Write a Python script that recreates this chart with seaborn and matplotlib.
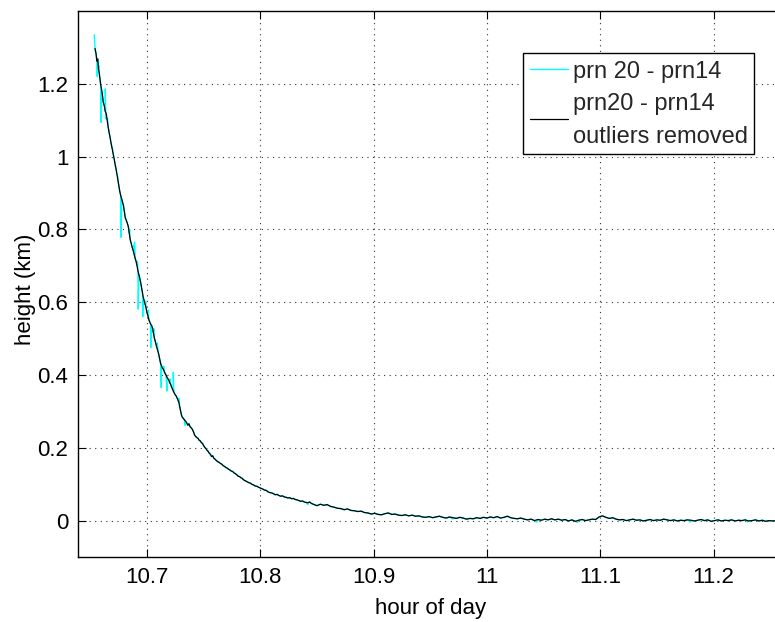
import numpy as np
import pandas as pd
import matplotlib
matplotlib.use("Agg")
import matplotlib.pyplot as plt
import seaborn as sns

# ---------------- data ----------------
# black series: prn20 - prn14, outliers removed (hour of day, height km)
steep_hour = [10.6541, 10.6550, 10.6558, 10.6565, 10.6572, 10.6580, 10.6590, 10.6598, 10.6606, 10.6614,
              10.6623, 10.6632, 10.6640, 10.6648, 10.6656, 10.6665, 10.6673, 10.6681, 10.6690, 10.6700,
              10.6710, 10.6719, 10.6727, 10.6735, 10.6744, 10.6752, 10.6760, 10.6768, 10.6776, 10.6784,
              10.6792, 10.6800, 10.6808, 10.6816, 10.6825, 10.6835, 10.6843, 10.6851, 10.6860, 10.6870,
              10.6879, 10.6888, 10.6896, 10.6904, 10.6912, 10.6920, 10.6928, 10.6936, 10.6944, 10.6952,
              10.6960, 10.6968, 10.6976, 10.6984, 10.6992, 10.7000, 10.7008, 10.7016, 10.7024, 10.7032,
              10.7040, 10.7048, 10.7056, 10.7064, 10.7072, 10.7080, 10.7088, 10.7096, 10.7104, 10.7112,
              10.7120, 10.7128, 10.7136, 10.7144, 10.7152, 10.7160, 10.7168, 10.7176, 10.7184, 10.7192,
              10.7200, 10.7208, 10.7216, 10.7224, 10.7232, 10.7240, 10.7248, 10.7256, 10.7264, 10.7272,
              10.7280, 10.7288, 10.7296, 10.7304, 10.7312, 10.7320, 10.7330, 10.7340, 10.7350, 10.7360,
              10.7370, 10.7380, 10.7390, 10.7400, 10.7410, 10.7420, 10.7430, 10.7440, 10.7450, 10.7460,
              10.7470, 10.7480, 10.7490, 10.7500, 10.7510, 10.7520, 10.7530, 10.7540, 10.7550, 10.7560,
              10.7570, 10.7580, 10.7590, 10.7600, 10.7612, 10.7624, 10.7636, 10.7648, 10.7660, 10.7672,
              10.7684, 10.7696, 10.7708, 10.7720, 10.7732, 10.7744, 10.7756, 10.7768, 10.7780, 10.7792,
              10.7804, 10.7816, 10.7828, 10.7840, 10.7852, 10.7864, 10.7876, 10.7888, 10.7900, 10.7912,
              10.7924, 10.7940, 10.7956, 10.7972, 10.7988, 10.8004, 10.8020, 10.8036, 10.8052, 10.8068,
              10.8084, 10.8100, 10.8116, 10.8132, 10.8148, 10.8164, 10.8180, 10.8196, 10.8212, 10.8228,
              10.8244, 10.8260, 10.8276, 10.8292, 10.8308, 10.8324, 10.8340, 10.8356, 10.8372, 10.8388,
              10.8404, 10.8420, 10.8436, 10.8452, 10.8468, 10.8484, 10.8500]
steep_height = [1.297, 1.283, 1.262, 1.268, 1.240, 1.226, 1.200, 1.186, 1.170, 1.149,
                1.140, 1.124, 1.118, 1.101, 1.084, 1.067, 1.055, 1.040, 1.026, 1.010,
                0.994, 0.978, 0.966, 0.951, 0.935, 0.918, 0.904, 0.893, 0.884, 0.876,
                0.866, 0.848, 0.832, 0.826, 0.818, 0.808, 0.790, 0.773, 0.762, 0.750,
                0.741, 0.730, 0.720, 0.712, 0.700, 0.686, 0.676, 0.666, 0.654, 0.640,
                0.625, 0.612, 0.603, 0.594, 0.584, 0.571, 0.563, 0.552, 0.546, 0.540,
                0.536, 0.530, 0.516, 0.503, 0.493, 0.484, 0.474, 0.466, 0.456, 0.444,
                0.432, 0.425, 0.419, 0.416, 0.410, 0.404, 0.400, 0.394, 0.390, 0.386,
                0.379, 0.375, 0.368, 0.362, 0.356, 0.351, 0.346, 0.343, 0.338, 0.332,
                0.326, 0.314, 0.302, 0.290, 0.284, 0.281, 0.277, 0.273, 0.269, 0.262,
                0.266, 0.258, 0.255, 0.251, 0.244, 0.235, 0.231, 0.228, 0.226, 0.221,
                0.219, 0.214, 0.212, 0.206, 0.201, 0.198, 0.193, 0.190, 0.185, 0.182,
                0.176, 0.178, 0.171, 0.169, 0.165, 0.162, 0.160, 0.157, 0.155, 0.151,
                0.149, 0.146, 0.144, 0.141, 0.139, 0.136, 0.135, 0.131, 0.129, 0.126,
                0.122, 0.121, 0.118, 0.116, 0.112, 0.110, 0.108, 0.106, 0.104, 0.103,
                0.100, 0.098, 0.095, 0.094, 0.091, 0.089, 0.087, 0.084, 0.083, 0.079,
                0.077, 0.076, 0.074, 0.071, 0.072, 0.069, 0.067, 0.068, 0.065, 0.064,
                0.062, 0.063, 0.060, 0.061, 0.058, 0.057, 0.055, 0.053, 0.054, 0.051,
                0.050, 0.049, 0.051, 0.047, 0.045, 0.043, 0.041]

tail_hour = [10.853, 10.856, 10.859, 10.862, 10.865, 10.868, 10.871, 10.874, 10.877, 10.880,
             10.883, 10.886, 10.889, 10.892, 10.895, 10.898, 10.901, 10.904, 10.907, 10.910,
             10.913, 10.916, 10.919, 10.922, 10.925, 10.928, 10.931, 10.934, 10.937, 10.940,
             10.943, 10.946, 10.949, 10.952, 10.955, 10.958, 10.961, 10.964, 10.967, 10.970,
             10.973, 10.976, 10.979, 10.982, 10.985, 10.988, 10.991, 10.994, 10.997, 11.000,
             11.003, 11.006, 11.009, 11.012, 11.015, 11.018, 11.021, 11.024, 11.027, 11.030,
             11.033, 11.036, 11.039, 11.042, 11.045, 11.048, 11.051, 11.054, 11.057, 11.060,
             11.063, 11.066, 11.069, 11.072, 11.075, 11.078, 11.081, 11.084, 11.087, 11.090,
             11.093, 11.096, 11.099, 11.102, 11.105, 11.108, 11.111, 11.114, 11.117, 11.120,
             11.123, 11.126, 11.129, 11.132, 11.135, 11.138, 11.141, 11.144, 11.147, 11.150,
             11.153, 11.156, 11.159, 11.162, 11.165, 11.168, 11.171, 11.174, 11.177, 11.180,
             11.183, 11.186, 11.189, 11.192, 11.195, 11.198, 11.201, 11.204, 11.207, 11.210,
             11.213, 11.216, 11.219, 11.222, 11.225, 11.228, 11.231, 11.234, 11.237, 11.240,
             11.243, 11.246, 11.249, 11.252, 11.255]
tail_height = [0.045, 0.042, 0.044, 0.039, 0.037, 0.034, 0.033, 0.030, 0.032, 0.028,
               0.027, 0.025, 0.026, 0.022, 0.021, 0.018, 0.020, 0.017, 0.016, 0.019,
               0.021, 0.017, 0.018, 0.015, 0.014, 0.016, 0.013, 0.015, 0.012, 0.013,
               0.010, 0.009, 0.011, 0.008, 0.010, 0.012, 0.009, 0.007, 0.010, 0.008,
               0.006, 0.009, 0.007, 0.004, 0.006, 0.005, 0.008, 0.006, 0.009, 0.007,
               0.010, 0.008, 0.011, 0.007, 0.009, 0.012, 0.008, 0.006, 0.005, 0.007,
               0.004, 0.002, 0.004, 0.000, 0.003, 0.001, 0.004, 0.002, 0.005, 0.002,
               0.004, 0.001, 0.003, -0.001, 0.002, -0.002, 0.001, 0.003, 0.000, 0.002,
               0.004, 0.003, 0.010, 0.013, 0.009, 0.006, 0.008, 0.004, 0.002, 0.003,
               0.000, 0.002, 0.004, 0.001, 0.002, -0.001, 0.001, 0.003, 0.000, 0.002,
               0.001, 0.004, 0.002, 0.000, 0.002, -0.001, 0.001, 0.000, 0.002, 0.001,
               -0.001, 0.001, 0.003, 0.000, 0.002, -0.002, 0.000, 0.002, -0.001, 0.001,
               0.000, 0.002, -0.001, 0.001, 0.000, 0.002, -0.001, 0.000, 0.002, -0.001,
               0.001, -0.002, 0.000, -0.001, 0.000]

# outlier samples present only in the raw (cyan) series
outlier_hour = [10.6535, 10.6561, 10.6576, 10.6594, 10.6632, 10.6636, 10.6652, 10.6696,
                10.6740, 10.6772, 10.6804, 10.6847, 10.6883, 10.6890, 10.6916, 10.6923,
                10.6962, 10.6988, 10.7012, 10.7033, 10.7060, 10.7092, 10.7126, 10.7148,
                10.7176, 10.7204, 10.7232, 10.7236, 10.7284, 10.7336, 10.8420,
                10.9700, 11.0440, 11.0800, 11.1800, 11.2300]
outlier_height = [1.335, 1.220, 1.250, 1.094, 1.186, 1.104, 1.105, 1.022,
                  0.948, 0.778, 0.846, 0.800, 0.756, 0.765, 0.711, 0.581,
                  0.560, 0.603, 0.578, 0.475, 0.527, 0.488, 0.365, 0.424,
                  0.356, 0.389, 0.407, 0.360, 0.336, 0.262, 0.044,
                  0.004, -0.004, -0.005, -0.004, -0.004]

x_ticks = [10.7, 10.8, 10.9, 11.0, 11.1, 11.2]
x_tick_labels = ["10.7", "10.8", "10.9", "11", "11.1", "11.2"]
y_ticks = [0, 0.2, 0.4, 0.6, 0.8, 1.0, 1.2]
y_tick_labels = ["0", "0.2", "0.4", "0.6", "0.8", "1", "1.2"]

label_raw = "prn 20 - prn14"
label_clean = "prn20 - prn14\noutliers removed"

# ---------------- tables ----------------
clean = pd.DataFrame({"hour": steep_hour + tail_hour,
                      "height": steep_height + tail_height})
raw = pd.concat([clean, pd.DataFrame({"hour": outlier_hour, "height": outlier_height})],
                ignore_index=True).sort_values("hour").reset_index(drop=True)

# ---------------- style ----------------
sns.set_theme(style="white")
plt.rcParams["font.family"] = ["Liberation Sans", "DejaVu Sans"]
plt.rcParams["axes.unicode_minus"] = False

fig = plt.figure(figsize=(7.75, 6.22), dpi=100)
ax = fig.add_axes([78 / 775, 65 / 622, 700 / 775, 546 / 622])

sns.lineplot(data=raw, x="hour", y="height", ax=ax, color="#00FFFF", linewidth=1.0,
             estimator=None, sort=True, label=label_raw)
sns.lineplot(data=clean, x="hour", y="height", ax=ax, color="black", linewidth=0.9,
             estimator=None, sort=True, label=label_clean)

ax.set_xlim(10.6391, 11.2569)
ax.set_ylim(-0.1, 1.4)
ax.set_xticks(x_ticks)
ax.set_xticklabels(x_tick_labels)
ax.set_yticks(y_ticks)
ax.set_yticklabels(y_tick_labels)

ax.grid(True, linestyle=(0, (1, 4)), color="#333333", linewidth=0.8)
ax.set_axisbelow(True)

for name, s in ax.spines.items():
    s.set_color("black")
    s.set_linewidth(1.0)
ax.spines["right"].set_visible(False)

ax.tick_params(axis="both", which="major", direction="in", length=6, width=0.8,
               top=True, right=False, bottom=True, left=True, labelsize=16, pad=7,
               colors="black")

ax.set_xlabel("hour of day", fontsize=16, color="black")
ax.set_ylabel("height (km)", fontsize=16, color="black")
ax.xaxis.set_label_coords(0.5036, -0.076)
ax.yaxis.set_label_coords(-0.060, 0.49)

leg = ax.legend(loc="upper right", bbox_to_anchor=(0.966, 0.923), borderaxespad=0,
                fontsize=17, handlelength=1.6, handletextpad=0.2, borderpad=0.28,
                labelspacing=0.4, handleheight=1.0, frameon=True, fancybox=False,
                framealpha=1)
leg.get_frame().set_edgecolor("black")
leg.get_frame().set_linewidth(1.0)
for t in leg.get_texts():
    t.set_linespacing(1.65)

fig.savefig("out.png", dpi=100)
